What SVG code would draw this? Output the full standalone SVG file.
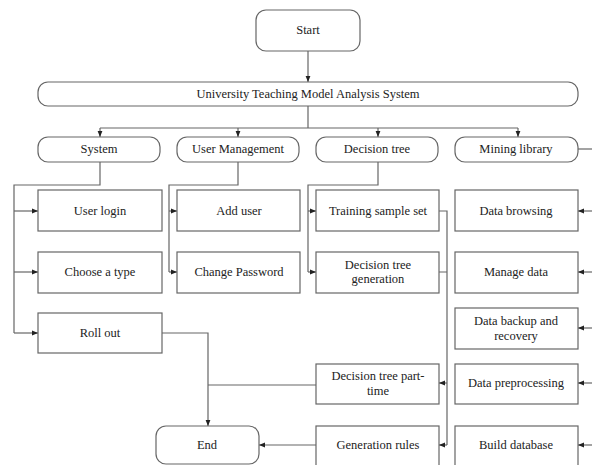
<svg xmlns="http://www.w3.org/2000/svg" width="592" height="465" viewBox="0 0 592 465">
<defs>
<style>
.b{fill:#fff;stroke:#666;stroke-width:1.2}
.t{font-family:"Liberation Serif","Times New Roman",serif;font-size:12.5px;fill:#222;text-anchor:middle;dominant-baseline:central}
.c{fill:none;stroke:#666;stroke-width:1.2}
</style>
<marker id="a" viewBox="0 0 10 10" refX="10" refY="5" markerWidth="6" markerHeight="6" orient="auto" markerUnits="userSpaceOnUse"><path d="M0,1 L10,5 L0,9 Z" fill="#222"/></marker>
</defs>
<rect width="592" height="465" fill="#fff"/>
<g id="connectors">
<path class="c" d="M308,51 V82" marker-end="url(#a)"/>
<path class="c" d="M308,106 V128 M100,128 H518"/>
<path class="c" d="M100,128 V137" marker-end="url(#a)"/>
<path class="c" d="M238,128 V137" marker-end="url(#a)"/>
<path class="c" d="M378,128 V137" marker-end="url(#a)"/>
<path class="c" d="M518,128 V137" marker-end="url(#a)"/>
<path class="c" d="M578,149 H592"/>
<path class="c" d="M100,162 V185 H14 V333"/>
<path class="c" d="M14,211 H38" marker-end="url(#a)"/>
<path class="c" d="M14,272 H38" marker-end="url(#a)"/>
<path class="c" d="M14,333 H38" marker-end="url(#a)"/>
<path class="c" d="M238,162 V185 H169 V272"/>
<path class="c" d="M169,211 H177" marker-end="url(#a)"/>
<path class="c" d="M169,272 H177" marker-end="url(#a)"/>
<path class="c" d="M378,162 V185 H308 V272"/>
<path class="c" d="M308,211 H316" marker-end="url(#a)"/>
<path class="c" d="M308,272 H316" marker-end="url(#a)"/>
<path class="c" d="M439,211 H447 V445 M439,272 H447"/>
<path class="c" d="M447,383 H439" marker-end="url(#a)"/>
<path class="c" d="M447,445 H439" marker-end="url(#a)"/>
<path class="c" d="M592,211 H578" marker-end="url(#a)"/>
<path class="c" d="M592,272 H578" marker-end="url(#a)"/>
<path class="c" d="M592,328 H578" marker-end="url(#a)"/>
<path class="c" d="M592,383 H578" marker-end="url(#a)"/>
<path class="c" d="M592,445 H578" marker-end="url(#a)"/>
<path class="c" d="M162,333 H208 V426" marker-end="url(#a)"/>
<path class="c" d="M316,385 H208"/>
<path class="c" d="M316,445 H259" marker-end="url(#a)"/>
</g>
<g id="start"><rect class="b" x="256" y="10" width="104" height="41" rx="10"/><text class="t" x="308" y="30">Start</text></g>
<g id="main"><rect class="b" x="38" y="82" width="540" height="24" rx="10"/><text class="t" x="308" y="94">University Teaching Model Analysis System</text></g>
<g id="system"><rect class="b" x="38" y="137" width="122" height="25" rx="10"/><text class="t" x="99" y="149">System</text></g>
<g id="usermgmt"><rect class="b" x="177" y="137" width="122" height="25" rx="10"/><text class="t" x="238" y="149">User Management</text></g>
<g id="dtree"><rect class="b" x="316" y="137" width="122" height="25" rx="10"/><text class="t" x="377" y="149">Decision tree</text></g>
<g id="mining"><rect class="b" x="455" y="137" width="123" height="25" rx="10"/><text class="t" x="516" y="149">Mining library</text></g>
<g id="userlogin"><rect class="b" x="38" y="190" width="124" height="41"/><text class="t" x="100" y="211">User login</text></g>
<g id="choosetype"><rect class="b" x="38" y="252" width="124" height="41"/><text class="t" x="100" y="272">Choose a type</text></g>
<g id="rollout"><rect class="b" x="38" y="313" width="124" height="40"/><text class="t" x="100" y="333">Roll out</text></g>
<g id="adduser"><rect class="b" x="177" y="190" width="123" height="41"/><text class="t" x="239" y="211">Add user</text></g>
<g id="changepw"><rect class="b" x="177" y="252" width="123" height="41"/><text class="t" x="239" y="272">Change Password</text></g>
<g id="training"><rect class="b" x="316" y="190" width="123" height="41"/><text class="t" x="378" y="211">Training sample set</text></g>
<g id="dtgen"><rect class="b" x="316" y="252" width="123" height="41"/><text class="t" x="378" y="265">Decision tree</text><text class="t" x="378" y="279">generation</text></g>
<g id="dtpart"><rect class="b" x="316" y="364" width="123" height="40"/><text class="t" x="378" y="376">Decision tree part-</text><text class="t" x="378" y="391">time</text></g>
<g id="genrules"><rect class="b" x="316" y="426" width="123" height="44"/><text class="t" x="378" y="445">Generation rules</text></g>
<g id="browsing"><rect class="b" x="455" y="190" width="123" height="41"/><text class="t" x="516" y="211">Data browsing</text></g>
<g id="managedata"><rect class="b" x="455" y="252" width="123" height="41"/><text class="t" x="516" y="272">Manage data</text></g>
<g id="backup"><rect class="b" x="455" y="308" width="123" height="41"/><text class="t" x="516" y="321">Data backup and</text><text class="t" x="516" y="336">recovery</text></g>
<g id="preproc"><rect class="b" x="455" y="364" width="123" height="40"/><text class="t" x="516" y="383">Data preprocessing</text></g>
<g id="builddb"><rect class="b" x="455" y="426" width="123" height="44"/><text class="t" x="516" y="445">Build database</text></g>
<g id="end"><rect class="b" x="156" y="426" width="103" height="38" rx="10"/><text class="t" x="207" y="445">End</text></g>
</svg>
